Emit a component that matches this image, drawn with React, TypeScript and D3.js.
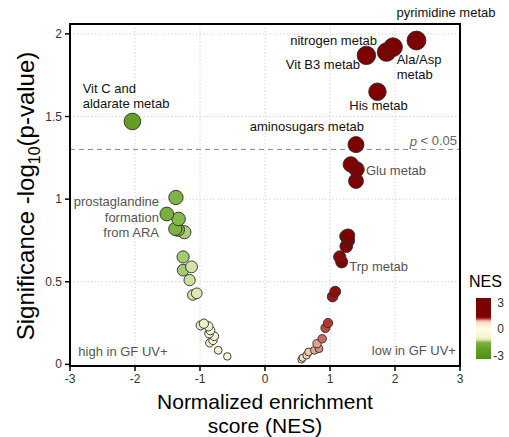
import React from "react";
import * as d3 from "d3";

// ---- data ----
const nesValues = [
  2.33, 1.97, 1.87, 1.56, 1.73,
  1.40, 1.32, 1.41, 1.40,
  1.28, 1.25, 1.28, 1.25, 1.15, 1.18,
  1.08, 1.04, 0.97, 0.93, 0.88, 0.80, 0.83, 0.76, 0.67, 0.64, 0.58, 0.56,
  -2.04,
  -1.37, -1.51, -1.33, -1.38, -1.34, -1.24,
  -1.26, -1.13, -1.26, -1.16, -1.05, -1.11,
  -0.99, -0.94, -0.87, -0.84, -0.86, -0.78, -0.80, -0.85, -0.72, -0.58,
];
const sigValues = [
  1.96, 1.92, 1.89, 1.87, 1.65,
  1.33, 1.21, 1.18, 1.11,
  0.78, 0.775, 0.75, 0.715, 0.65, 0.62,
  0.44, 0.41, 0.25, 0.22, 0.155, 0.125, 0.095, 0.085, 0.075, 0.055, 0.04, 0.03,
  1.47,
  1.01, 0.91, 0.88, 0.82, 0.815, 0.80,
  0.65, 0.59, 0.57, 0.51, 0.43, 0.42,
  0.236, 0.246, 0.23, 0.206, 0.186, 0.17, 0.145, 0.13, 0.085, 0.048,
];

const xTicks = [-3, -2, -1, 0, 1, 2, 3];
const yTicks = [0, 0.5, 1, 1.5, 2];
const legendTicks = [3, 0, -3];
const pThreshold = 0.05;

const colorStopsNes = [-3, -2, -1.35, -1.25, -1.15, -1.0, -0.8, 0, 0.6, 0.8, 0.93, 1.05, 1.2, 3];
const colorStopsHex = [
  "#4f8f14", "#64a027", "#7db443", "#a9cb72", "#cfe2a3", "#e6eec0", "#f7f5d6",
  "#fffce2", "#f6e2c6", "#dea58e", "#b94a40", "#951212", "#800000", "#780000",
];

// labels (text lines, anchor point in data units)
const labelTexts = [
  ["pyrimidine metab"], ["nitrogen metab"], ["Vit B3 metab"], ["Ala/Asp", "metab"],
  ["His metab"], ["aminosugars metab"], ["Glu metab"], ["Trp metab"],
  ["Vit C and", "aldarate metab"], ["prostaglandine", "formation", "from ARA"],
  ["high in GF UV+"], ["low in GF UV+"],
];
const labelNes = [2.785, 1.723, 1.462, 2.026, 1.297, 1.523, 1.554, 1.297, -2.805, -1.631, -2.872, 2.938];
const labelSig = [2.128, 1.959, 1.816, 1.846, 1.564, 1.438, 1.176, 0.595, 1.671, 0.984, 0.076, 0.082];
const labelAnchor = ["middle", "end", "end", "start", "start", "end", "start", "start", "start", "end", "start", "end"];
const labelDark = [true, true, true, true, true, true, false, false, true, false, false, false];

export default function App() {
  const W = 509, H = 437;
  const x = d3.scaleLinear().domain([-3, 3]).range([70, 460]);
  const y = d3.scaleLinear().domain([-0.01, 2.06]).range([366, 24]);
  const color = d3.scaleLinear<string>().domain(colorStopsNes).range(colorStopsHex).clamp(true);
  const area = d3.scaleLinear().domain([0, 2]).range([12, 90]);
  const r = (v: number) => Math.sqrt(area(v));
  const lineH = y(0) - y(0.0926);

  const pts = nesValues.map((n, i) => ({ n, s: sigValues[i] })).sort((a, b) => a.s - b.s);
  const x0 = x.range()[0], x1 = x.range()[1], y0 = y.range()[0], y1 = y.range()[1];
  const thr = -Math.log10(pThreshold);

  const leg = d3.scaleLinear().domain([3, -3]).range([298, 359]);
  const gradStops = d3.range(0, 61).map((i) => 3 - i * 0.1);
  const font = "Liberation Sans, Arial, Helvetica, sans-serif";

  return (
    <svg width={W} height={H} style={{ position: "absolute", left: 0, top: 0, fontFamily: font }}>
      <defs>
        <linearGradient id="nesGrad" x1="0" y1="0" x2="0" y2="1">
          {gradStops.map((v, i) => (
            <stop key={i} offset={`${(i / 60) * 100}%`} stopColor={color(v)} />
          ))}
        </linearGradient>
      </defs>
      <rect width={W} height={H} fill="#fff" />
      {/* grid */}
      {xTicks.slice(1, -1).map((t) => (
        <line key={"gx" + t} x1={x(t)} x2={x(t)} y1={y1} y2={y0} stroke="#d6d6d6" strokeDasharray="1.5,2" />
      ))}
      {yTicks.slice(1).map((t) => (
        <line key={"gy" + t} x1={x0} x2={x1} y1={y(t)} y2={y(t)} stroke="#d6d6d6" strokeDasharray="1.5,2" />
      ))}
      {/* threshold */}
      <line x1={x0} x2={x1} y1={y(thr)} y2={y(thr)} stroke="#888" strokeWidth={1} strokeDasharray="5,4" />
      {/* points */}
      {pts.map((p, i) => (
        <circle key={i} cx={x(p.n)} cy={y(p.s)} r={r(p.s)} fill={color(p.n)} stroke="#2a2a2a" strokeWidth={0.9} />
      ))}
      {/* labels */}
      {labelTexts.map((lines, i) => (
        <text
          key={"l" + i}
          x={x(labelNes[i])}
          textAnchor={labelAnchor[i] as any}
          fontSize={13}
          fill={labelDark[i] ? "#111" : "#555"}
        >
          {lines.map((ln, j) => (
            <tspan key={j} x={x(labelNes[i])} y={y(labelSig[i]) + j * lineH} dominantBaseline="central">
              {ln}
            </tspan>
          ))}
        </text>
      ))}
      <text x={x(2.954)} y={y(1.354)} textAnchor="end" fontSize={13} fill="#666" dominantBaseline="central">
        <tspan fontStyle="italic">p</tspan> &lt; 0.05
      </text>
      {/* frame */}
      <rect x={x0} y={y1} width={x1 - x0} height={y0 - y1} fill="none" stroke="#000" strokeWidth={2} />
      {/* ticks */}
      {xTicks.map((t) => (
        <g key={"xt" + t}>
          <line x1={x(t)} x2={x(t)} y1={y0} y2={y0 + 5} stroke="#000" strokeWidth={1.5} />
          <text x={x(t)} y={y0 + 17} textAnchor="middle" fontSize={12} fill="#333">{t}</text>
        </g>
      ))}
      {yTicks.map((t) => (
        <g key={"yt" + t}>
          <line x1={x0 - 5} x2={x0} y1={y(t)} y2={y(t)} stroke="#000" strokeWidth={1.5} />
          <text x={x0 - 8} y={y(t)} textAnchor="end" dominantBaseline="central" fontSize={12} fill="#333">{t}</text>
        </g>
      ))}
      {/* axis titles */}
      <text x={(x0 + x1) / 2} y={409} textAnchor="middle" fontSize={21} fill="#000">Normalized enrichment</text>
      <text x={(x0 + x1) / 2} y={433} textAnchor="middle" fontSize={21} fill="#000">score (NES)</text>
      <text transform={`translate(34, ${(y0 + y1) / 2 + 1}) rotate(-90)`} textAnchor="middle" fontSize={24} fill="#000">
        Significance -log<tspan fontSize={16} dy={6}>10</tspan><tspan dy={-6}>(p-value)</tspan>
      </text>
      {/* legend */}
      <text x={469} y={287} fontSize={16} fill="#000">NES</text>
      <rect x={476} y={leg(3)} width={15} height={leg(-3) - leg(3)} fill="url(#nesGrad)" />
      {legendTicks.map((t) => (
        <text key={"lt" + t} x={504} y={leg(t) + (t === 3 ? 5 : t === -3 ? -3 : 0)} textAnchor="end" dominantBaseline="central" fontSize={12} fill="#333">
          {t}
        </text>
      ))}
    </svg>
  );
}
